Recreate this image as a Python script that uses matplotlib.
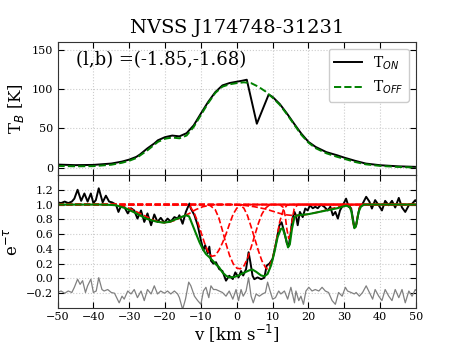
import matplotlib
matplotlib.use("Agg")
import matplotlib.pyplot as plt

plt.rcParams['font.family'] = ['DejaVu Serif']
plt.rcParams['mathtext.fontset'] = 'dejavusans'

# emission spectra (top panel)
v_on = [-50, -45, -40, -35, -32, -30, -28, -27, -25, -23, -22, -20, -18, -16, -14, -12, -10, -8, -6, -4,
        -2, 0, 1.5, 2.8, 5.6, 8.9, 10, 12, 14, 16, 18, 20, 22, 25, 28, 30, 33, 36, 40, 45, 50]
t_on = [4.2, 3.5, 3.8, 5.5, 8, 10.5, 14, 17, 24.5, 31, 35, 39, 41, 40, 44, 54, 69, 83.5, 96, 104.6,
        107.6, 109.3, 110.5, 111.8, 56, 93, 90, 81, 69, 56, 43.5, 33, 26.6, 20, 16, 13, 9, 5.5, 3.4, 2, 1.3]

v_off = [-50, -45, -40, -35, -32, -30, -28, -25, -22, -20, -18, -16, -14, -12, -10, -8, -6, -4, -2, 0,
         2, 4, 6, 8, 10, 12, 14, 16, 18, 20, 22, 25, 28, 30, 33, 36, 40, 45, 50]
t_off = [2.5, 2, 2.2, 4, 6.5, 9, 12.5, 22, 33, 37, 38.5, 37.5, 41, 52, 67, 82, 95, 103, 106, 107.5,
         108.5, 107.5, 103, 97, 89, 80, 68, 55, 42, 32, 25, 18.5, 14, 11.5, 7.5, 4.5, 2.5, 1.2, 0.5]

# absorption spectrum (bottom panel)
v_abs = [-50, -49, -48, -47, -46, -45.3, -44.4, -43.4, -42.5, -41.6, -40.7, -40.0, -39.3, -38.5, -37.4,
         -36.5, -35.6, -34.8, -33.7, -33.0, -32.3, -31.4, -30.4, -29.5, -28.6, -27.7, -26.7, -25.8,
         -24.9, -23.9, -23.0, -22.1, -21.2, -20.2, -19.3, -18.4, -17.4, -16.5, -16.0, -15.1, -14.2,
         -13.2, -12.8, -11.8, -10.9, -10.0, -9.3, -8.8, -8.1, -7.65, -7.2, -6.5, -5.8, -4.9, -4.0,
         -3.0, -2.1, -1.1, -0.4, 0.5, 1.2, 1.8, 2.6, 3.3, 3.8, 4.4, 4.9, 5.8, 6.8, 7.7, 8.35, 9.1,
         10.0, 11.0, 11.9, 12.5, 13.3, 14.0, 14.5, 15.0, 15.5, 16.1, 16.5, 17.0, 17.6, 18.4, 19.1,
         19.8, 20.4, 21.2, 21.9, 22.6, 23.5, 24.4, 25.4, 26.1, 26.8, 27.5, 28.2, 28.8, 29.6, 30.5,
         31.2, 31.9, 32.8, 33.3, 34.2, 35.1, 36.1, 37.0, 37.7, 38.6, 39.6, 40.5, 41.4, 42.4, 43.3,
         44.2, 45.2, 46.1, 47.0, 48.0, 48.9, 49.8, 50]
e_abs = [1.03, 1.02, 1.04, 1.02, 1.04, 1.08, 1.20, 1.05, 1.15, 1.04, 1.15, 1.02, 1.06, 1.22, 1.03,
         1.12, 1.04, 1.03, 1.0, 0.90, 0.98, 0.97, 0.88, 0.95, 0.92, 0.81, 0.92, 0.765,
         0.88, 0.72, 0.866, 0.765, 0.82, 0.755, 0.81, 0.77, 0.83, 0.81, 0.855, 0.74, 0.90,
         1.014, 0.946, 0.855, 0.72, 0.516, 0.38, 0.45, 0.34, 0.43, 0.24, 0.20, 0.22, 0.127, 0.10,
         -0.03, 0.037, -0.008, 0.082, 0.014, 0.10, 0.04, 0.127, 0.355, 0.22, 0.037, -0.01, 0.014,
         -0.01, 0.01, 0.175, 0.2, 0.264, 0.49, 0.72, 0.76, 0.62, 0.47, 0.44, 0.6, 0.8, 0.9, 0.855,
         0.72, 0.9, 0.83, 0.946, 0.92, 0.99, 0.95, 0.97, 0.95, 1.0, 0.97, 0.92, 0.97, 0.855, 0.9,
         0.81, 0.92, 0.99, 1.08, 0.97, 0.95, 0.70, 0.72, 0.95, 1.01, 1.105, 1.04, 0.946, 1.06, 0.99,
         0.92, 1.05, 0.99, 1.05, 0.96, 1.09, 0.96, 0.90, 0.99, 1.01, 1.06, 1.05]

# total fit
v_fit = [-50, -38, -35, -33.7, -31, -28, -25.3, -22.5, -20.5, -18.8, -16.5, -15, -14.2, -13.3, -12.3,
         -11.4, -10.4, -9.5, -8.6, -7.7, -6.7, -5.8, -4.9, -4.0, -3.0, -2.1, -0.7, 0.5, 1.7, 3.5,
         4.4, 5.4, 6.8, 7.7, 8.6, 9.6, 10.5, 11.4, 12.3, 12.8, 13.6, 14.3, 14.8, 15.4, 16.1, 17.0,
         20, 24, 28, 30.5, 31.5, 32.0, 32.4, 32.8, 33.2, 33.6, 34.0, 34.6, 35.5, 50]
e_fit = [1.0, 1.0, 0.995, 0.99, 0.95, 0.88, 0.81, 0.77, 0.755, 0.765, 0.81, 0.84, 0.855, 0.84, 0.72,
         0.61, 0.49, 0.40, 0.33, 0.29, 0.24, 0.19, 0.15, 0.082, 0.037, 0.014, 0.02, 0.04, 0.07, 0.11,
         0.12, 0.09, 0.04, 0.03, 0.06, 0.18, 0.355, 0.56, 0.67, 0.68, 0.56, 0.42, 0.46, 0.67, 0.83,
         0.855, 0.87, 0.91, 0.95, 0.985, 0.97, 0.9, 0.78, 0.68, 0.7, 0.8, 0.9, 0.97, 1.0, 1.0]

# individual components
comp_v = [
    [-50, -36, -33, -30, -27, -25, -23, -21, -20, -19, -17, -15, -13.2, -11.5, -9.5, -7.5, -6, 50],
    [-50, -14, -13, -12, -11, -10, -9, -8, -7, -6, -5, -4, -3, -2, -1, 0, 1, 2, 50],
    [-50, -8.5, -7.5, -6, -5, -4, -3, -2, -1, 0, 1, 2, 3, 4, 5, 6, 7, 8, 9, 10, 50],
    [-50, 0, 1, 2, 3, 4, 5, 6, 7, 8, 8.5, 9, 10, 11, 12, 13, 14, 15, 50],
    [-50, 12, 13, 13.5, 14, 14.5, 15, 15.5, 16, 17, 50],
    [-50, -2, 2, 5, 8, 10, 12, 14, 16, 18, 20, 23, 26, 29, 32, 34, 50],
    [-50, 31, 31.6, 32.1, 32.5, 32.9, 33.3, 33.8, 34.3, 35, 50],
]
comp_e = [
    [1.0, 1.0, 0.99, 0.95, 0.88, 0.83, 0.785, 0.76, 0.755, 0.76, 0.79, 0.84, 0.88, 0.93, 0.97, 0.99, 1.0, 1.0],
    [1.0, 1.0, 0.97, 0.9, 0.78, 0.63, 0.48, 0.36, 0.3, 0.31, 0.38, 0.48, 0.6, 0.74, 0.87, 0.95, 0.99, 1.0, 1.0],
    [1.0, 1.0, 0.99, 0.93, 0.82, 0.65, 0.47, 0.31, 0.2, 0.14, 0.13, 0.17, 0.27, 0.42, 0.58, 0.74, 0.87, 0.95, 0.99, 1.0, 1.0],
    [1.0, 1.0, 0.99, 0.95, 0.85, 0.7, 0.54, 0.38, 0.24, 0.15, 0.13, 0.15, 0.27, 0.5, 0.77, 0.93, 0.99, 1.0, 1.0],
    [1.0, 1.0, 0.96, 0.85, 0.66, 0.54, 0.62, 0.8, 0.94, 1.0, 1.0],
    [1.0, 1.0, 0.99, 0.97, 0.94, 0.91, 0.88, 0.86, 0.85, 0.855, 0.87, 0.9, 0.94, 0.975, 0.995, 1.0, 1.0],
    [1.0, 1.0, 0.98, 0.88, 0.74, 0.67, 0.72, 0.87, 0.97, 1.0, 1.0],
]

# residuals (offset)
v_res = [-50, -49, -48, -47, -46, -45.3, -44.4, -43.7, -43, -42.2, -41.6, -40.7, -40, -39.2, -38.5,
         -37.6, -37, -36, -35, -34.1, -33.7, -32.8, -32, -31.4, -30.4, -29.5, -28.6, -27.7, -26.7,
         -25.8, -24.9, -23.9, -23.0, -22.1, -21.2, -20.2, -19.3, -18.4, -17.4, -16.5, -16.0, -15.1,
         -14.3, -13.4, -12.8, -11.8, -10.9, -10.0, -9.3, -8.6, -7.8, -7.2, -6.5, -5.8, -4.9, -4.0,
         -3.0, -2.1, -1.1, -0.2, 0.5, 1.2, 1.8, 2.6, 3.3, 4.0, 4.6, 5.4, 6.3, 7.2, 8.0, 8.6, 9.3,
         10.0, 10.8, 11.7, 12.3, 13.3, 14.2, 15.1, 16.1, 16.5, 17.3, 17.9, 18.6, 19.3, 20.1, 21.0,
         21.9, 22.9, 23.8, 24.7, 25.6, 26.6, 27.5, 28.4, 29.4, 30.3, 30.9, 31.9, 32.8, 33.3, 34.2,
         35.1, 36.1, 37.0, 37.9, 38.6, 39.6, 40.5, 41.4, 42.4, 43.3, 44.2, 45.2, 46.1, 47.0, 48.0,
         48.9, 49.8, 50]
e_res = [-0.19, -0.17, -0.2, -0.17, -0.19, -0.12, -0.01, -0.08, -0.03, -0.19, -0.1, -0.01, -0.19,
         -0.17, 0.01, -0.15, -0.17, -0.15, -0.19, -0.2, -0.24, -0.33, -0.24, -0.28, -0.17, -0.21,
         -0.15, -0.26, -0.17, -0.3, -0.15, -0.21, -0.1, -0.21, -0.17, -0.2, -0.17, -0.21, -0.17,
         -0.21, -0.26, -0.42, -0.28, -0.05, -0.1, -0.24, -0.3, -0.35, -0.17, -0.12, -0.26, -0.1,
         -0.15, -0.15, -0.17, -0.19, -0.24, -0.17, -0.28, -0.15, -0.3, -0.15, -0.24, -0.17, 0.01,
         -0.24, -0.33, -0.21, -0.24, -0.21, -0.19, -0.05, -0.17, -0.28, -0.26, -0.17, -0.21, -0.17,
         -0.28, -0.12, -0.33, -0.17, -0.3, -0.24, -0.35, -0.17, -0.12, -0.17, -0.15, -0.17, -0.12,
         -0.17, -0.19, -0.3, -0.35, -0.19, -0.24, -0.12, -0.17, -0.19, -0.21, -0.19, -0.24, -0.19,
         -0.1, -0.19, -0.28, -0.15, -0.24, -0.3, -0.15, -0.24, -0.3, -0.15, -0.26, -0.15, -0.33,
         -0.17, -0.24, -0.15, -0.16]

fig = plt.figure(figsize=(4.63, 3.47), dpi=100)
ax1 = fig.add_axes([0.1242, 0.4957, 0.7743, 0.3841])
ax2 = fig.add_axes([0.1242, 0.1124, 0.7743, 0.3833], sharex=ax1)

ax1.plot(v_on, t_on, color='k', lw=1.4, label='T$_{ON}$')
ax1.plot(v_off, t_off, color='green', lw=1.4, ls='--', label='T$_{OFF}$')
ax1.set_ylim(-9, 160)
ax1.set_yticks([0, 50, 100, 150])
ax1.set_ylabel('T$_B$ [K]', fontsize=12)
ax1.set_title('NVSS J174748-31231', fontsize=14)
ax1.text(0.052, 0.86, '(l,b) =(-1.85,-1.68)', transform=ax1.transAxes, fontsize=13, va='center')
ax1.legend(loc='upper right', fontsize=10, fancybox=True, framealpha=1, edgecolor='#cccccc')
ax1.tick_params(labelbottom=False)

ax2.plot(v_abs, e_abs, color='k', lw=1.4)
for cv, ce in zip(comp_v, comp_e):
    ax2.plot(cv, ce, color='red', lw=1.2, ls='--')
ax2.plot(v_fit, e_fit, color='green', lw=1.5)
ax2.plot(v_res, e_res, color='gray', lw=0.9)
ax2.set_ylim(-0.4, 1.4)
ax2.set_yticks([-0.2, 0.0, 0.2, 0.4, 0.6, 0.8, 1.0, 1.2])
ax2.set_xlim(-50, 50)
ax2.set_xticks(range(-50, 51, 10))
ax2.set_ylabel(r'e$^{-\tau}$', fontsize=12)
ax2.set_xlabel(r'v [km s$^{-1}$]', fontsize=12, labelpad=0)

for ax in (ax1, ax2):
    ax.grid(True, ls=':', color='#cccccc', lw=0.8)
    ax.tick_params(direction='in', top=True, right=True, labelsize=8, length=4, pad=3)
    for s in ax.spines.values():
        s.set_color('#333333')

fig.savefig('out.png', dpi=100)
